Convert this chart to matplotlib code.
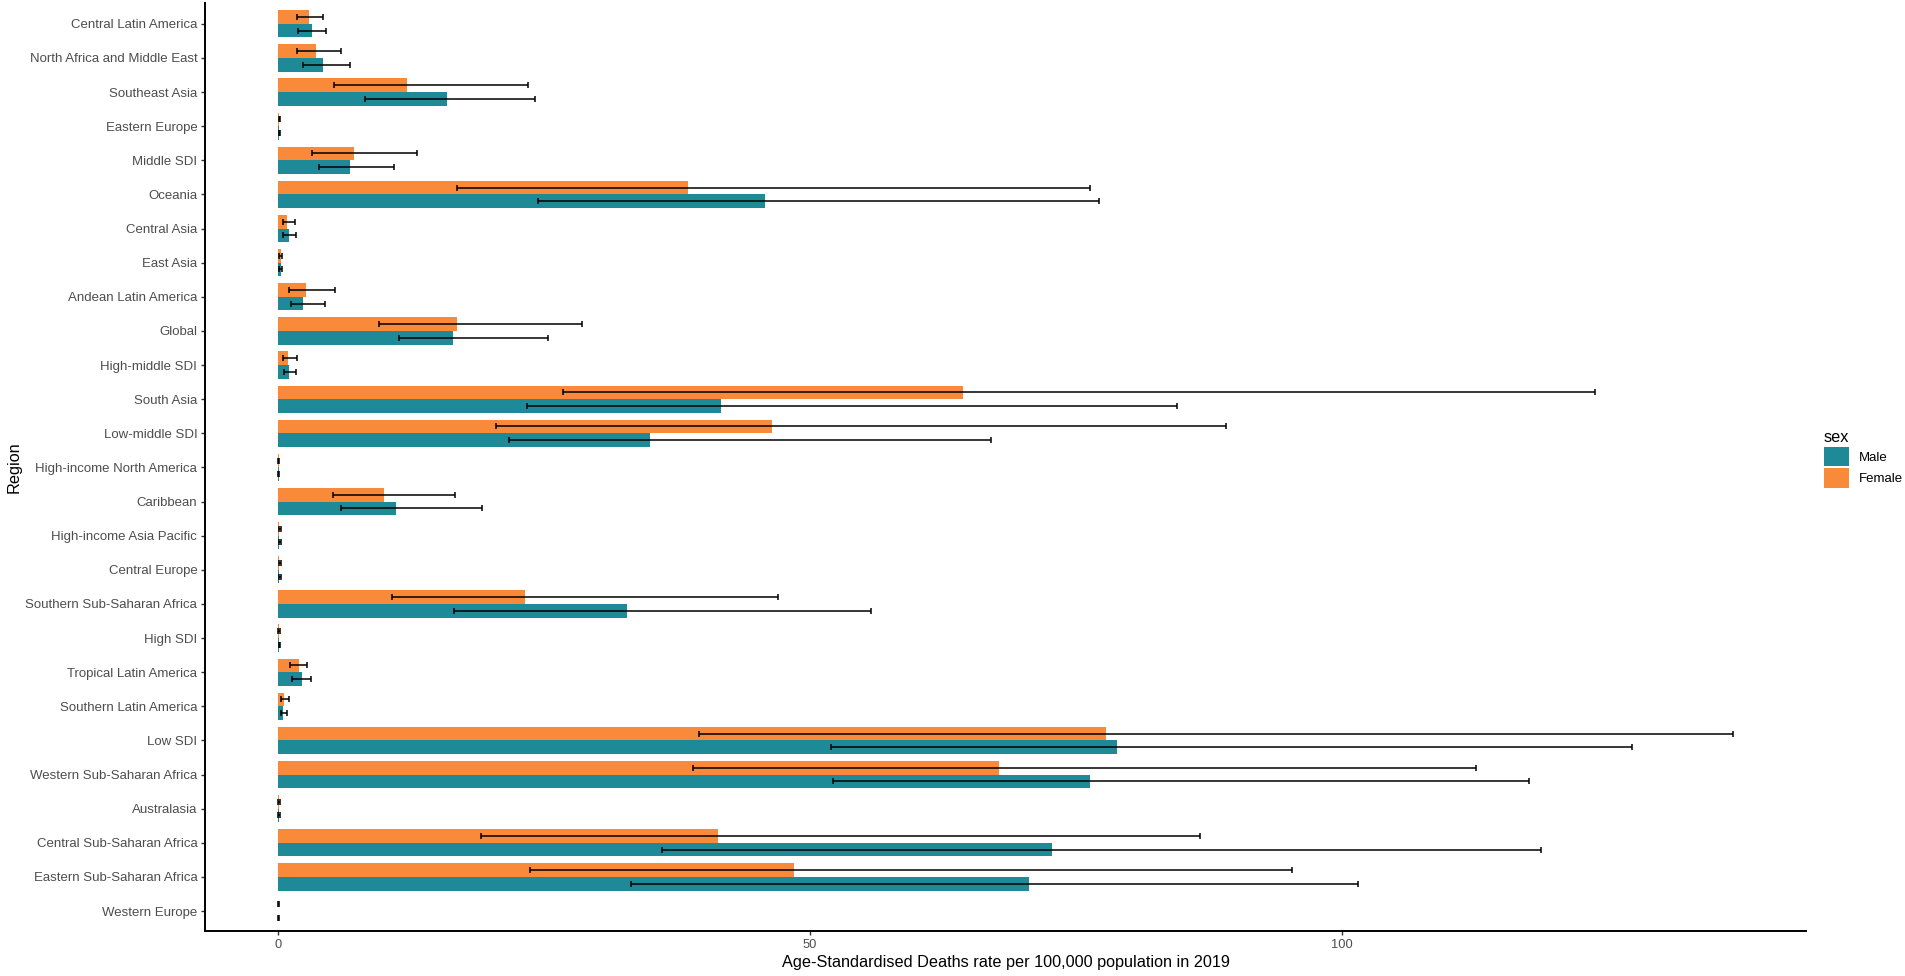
import matplotlib
matplotlib.use("Agg")
import matplotlib.pyplot as plt
from matplotlib.patches import Patch
import numpy as np

plt.rcParams['font.family'] = ['Liberation Sans', 'DejaVu Sans']

regions = ["Central Latin America", "North Africa and Middle East", "Southeast Asia",
           "Eastern Europe", "Middle SDI", "Oceania", "Central Asia", "East Asia",
           "Andean Latin America", "Global", "High-middle SDI", "South Asia",
           "Low-middle SDI", "High-income North America", "Caribbean",
           "High-income Asia Pacific", "Central Europe", "Southern Sub-Saharan Africa",
           "High SDI", "Tropical Latin America", "Southern Latin America", "Low SDI",
           "Western Sub-Saharan Africa", "Australasia", "Central Sub-Saharan Africa",
           "Eastern Sub-Saharan Africa", "Western Europe"]

male_val = [3.18, 4.23, 15.93, 0.12, 6.83, 45.81, 1.01, 0.29, 2.36, 16.5, 1.06, 41.67,
            34.94, 0.08, 11.12, 0.13, 0.15, 32.82, 0.1, 2.26, 0.53, 78.85, 76.34, 0.1,
            72.81, 70.6, 0.05]
male_lo = [1.92, 2.36, 8.18, 0.08, 3.9, 24.45, 0.53, 0.14, 1.2, 11.36, 0.63, 23.44,
           21.7, 0.05, 5.92, 0.08, 0.1, 16.6, 0.07, 1.35, 0.29, 51.97, 52.17, 0.06,
           36.09, 33.2, 0.03]
male_hi = [4.52, 6.79, 24.2, 0.18, 10.92, 77.2, 1.68, 0.43, 4.43, 25.36, 1.68, 84.5,
           66.99, 0.12, 19.2, 0.3, 0.28, 55.73, 0.2, 3.08, 0.91, 127.3, 117.6, 0.18,
           118.7, 101.5, 0.1]

female_val = [2.94, 3.61, 12.18, 0.15, 7.12, 38.55, 0.91, 0.29, 2.65, 16.89, 0.96, 64.39,
              46.44, 0.1, 9.96, 0.14, 0.15, 23.24, 0.1, 2.02, 0.63, 77.88, 67.76, 0.1,
              41.39, 48.56, 0.06]
female_lo = [1.83, 1.83, 5.25, 0.1, 3.22, 16.89, 0.48, 0.14, 1.06, 9.53, 0.53, 26.8,
             20.5, 0.06, 5.15, 0.08, 0.1, 10.78, 0.06, 1.15, 0.29, 39.56, 38.98, 0.06,
             19.06, 23.73, 0.03]
female_hi = [4.28, 5.92, 23.48, 0.2, 13.09, 76.3, 1.59, 0.43, 5.39, 28.63, 1.83, 123.8,
             89.1, 0.15, 16.65, 0.28, 0.26, 47.06, 0.2, 2.79, 1.01, 136.8, 112.6, 0.2,
             86.7, 95.3, 0.1]

teal = '#1E8A98'
orange = '#F88A3A'

fig = plt.figure(figsize=(19.05, 9.76), dpi=100)
ax = fig.add_axes([0.1076, 0.0456, 0.8405, 0.951])

y = np.arange(len(regions))
h = 0.4

mv = np.array(male_val)
fv = np.array(female_val)

ax.barh(y - h / 2, fv, height=h, color=orange, linewidth=0)
ax.barh(y + h / 2, mv, height=h, color=teal, linewidth=0)

ax.errorbar(fv, y - h / 2, xerr=[fv - np.array(female_lo), np.array(female_hi) - fv],
            fmt='none', ecolor='black', elinewidth=1.1, capsize=2.5, capthick=1.1)
ax.errorbar(mv, y + h / 2, xerr=[mv - np.array(male_lo), np.array(male_hi) - mv],
            fmt='none', ecolor='black', elinewidth=1.1, capsize=2.5, capthick=1.1)

ax.set_ylim(len(regions) - 0.4, -0.6)
ax.set_xlim(-6.84, 143.64)
ax.set_yticks(y)
ax.set_yticklabels(regions)
ax.set_xticks([0, 50, 100])

for s in ['top', 'right']:
    ax.spines[s].set_visible(False)
for s in ['left', 'bottom']:
    ax.spines[s].set_linewidth(1.4)
    ax.spines[s].set_color('black')

ax.tick_params(axis='both', colors='#333333', length=3, width=1, pad=2.5, labelcolor='#4D4D4D')
ax.tick_params(axis='y', labelsize=9.5)
ax.tick_params(axis='x', labelsize=9.3)
ax.set_xlabel('Age-Standardised Deaths rate per 100,000 population in 2019', fontsize=11.7, labelpad=3)
ax.set_ylabel('Region', fontsize=11.7, labelpad=3)

handles = [Patch(facecolor=teal, label='Male'), Patch(facecolor=orange, label='Female')]
fig.legend(handles=handles, title='sex', loc='upper left', bbox_to_anchor=(0.9575, 0.559),
           frameon=False, borderpad=0, borderaxespad=0, fontsize=9.5, title_fontsize=11.7,
           handlelength=1.9, handleheight=1.85, handletextpad=0.75, labelspacing=0.15,
           alignment='left')

fig.savefig('out.png', dpi=100)
